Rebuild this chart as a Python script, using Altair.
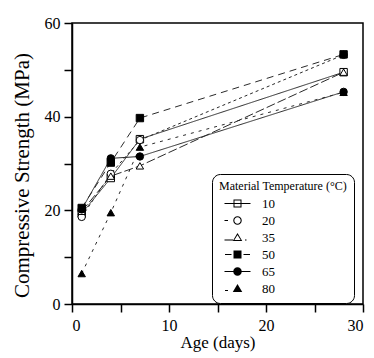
import altair as alt
import pandas as pd

days = [1, 4, 7, 28]
temps = ["10", "20", "35", "50", "65", "80"]
s10 = [19.3, 26.9, 35.2, 49.5]
s20 = [18.6, 27.8, 35.0, 53.2]
s35 = [19.8, 27.3, 29.5, 49.5]
s50 = [20.5, 30.2, 39.7, 53.3]
s65 = [20.2, 31.1, 31.5, 45.3]
s80 = [6.5, 19.5, 33.5, 45.2]

series = [s10, s20, s35, s50, s65, s80]
rows = []
for t, vals in zip(temps, series):
    for d, v in zip(days, vals):
        rows.append({"temp": t, "age": d, "strength": v})
df = pd.DataFrame(rows)

dash_range = [[1, 0], [3, 3], [9, 3], [7, 5], [1, 0], [3, 5]]
shape_range = ["square", "circle", "triangle-up", "square", "circle", "triangle-up"]
fill_range = ["white", "white", "white", "black", "black", "black"]


def rect(x0, x1, yc=0.0, h=0.11):
    return f"M{x0},{yc - h}H{x1}V{yc + h}H{x0}Z"


sq_out = "M-0.8,-0.8H0.8V0.8H-0.8Z"
sq_in = "M-0.6,-0.6V0.6H0.6V-0.6Z"
ci_out = "M0.85,0A0.85,0.85,0,1,1,-0.85,0A0.85,0.85,0,1,1,0.85,0Z"
ci_in = "M0.63,0A0.63,0.63,0,1,0,-0.63,0A0.63,0.63,0,1,0,0.63,0Z"
tr_out = "M0,-0.9L0.95,0.7H-0.95Z"
tr_in = "M0,-0.52L-0.62,0.5H0.62Z"

legend_paths = [
    rect(-2.6, 2.6) + sq_out + sq_in,
    rect(-2.6, -1.9) + ci_out + ci_in,
    rect(-2.6, -0.9, 0.5) + rect(1.5, 1.8, 0.5) + tr_out + tr_in,
    rect(-2.5, -1.2) + rect(1.2, 2.5) + sq_out,
    rect(-2.6, 2.6) + ci_out,
    rect(-2.5, -1.9, 0.4) + tr_out,
]

serif = "Liberation Serif"

x_enc = alt.X("age:Q", scale=alt.Scale(domain=[0, 30], nice=False),
              axis=alt.Axis(values=[0, 5, 10, 15, 20, 25, 30],
                            labelExpr="datum.value % 10 == 0 ? datum.label : ''",
                            title="Age (days)", grid=False, tickSize=8,
                            labelPadding=5, titlePadding=1,
                            labelFont=serif, titleFont=serif,
                            labelFontSize=16, titleFontSize=17))
y_enc = alt.Y("strength:Q", scale=alt.Scale(domain=[0, 60], nice=False),
              axis=alt.Axis(values=[0, 10, 20, 30, 40, 50, 60],
                            labelExpr="datum.value % 20 == 0 ? datum.label : ''",
                            title="Compressive Strength (MPa)", grid=False,
                            tickSize=8, labelPadding=4, titlePadding=12,
                            titleY=152,
                            labelFont=serif, titleFont=serif,
                            labelFontSize=16, titleFontSize=21))

base = alt.Chart(df)

lines = base.mark_line(color="#2a2a2a", strokeWidth=1).encode(
    x=x_enc, y=y_enc,
    strokeDash=alt.StrokeDash("temp:N", scale=alt.Scale(domain=temps, range=dash_range), legend=None),
    detail="temp:N",
)

points = base.mark_point(filled=True, size=55, stroke="black", strokeWidth=1, opacity=1).encode(
    x="age:Q", y="strength:Q",
    shape=alt.Shape("temp:N", scale=alt.Scale(domain=temps, range=shape_range), legend=None),
    fill=alt.Fill("temp:N", scale=alt.Scale(domain=temps, range=fill_range), legend=None),
)

leg = alt.Legend(
    title="Material Temperature (°C)", orient="none", legendX=140, legendY=151,
    strokeColor="black", cornerRadius=8, padding=7, fillColor="white",
    titleFont=serif, titleFontSize=12, titleFontWeight="normal", titlePadding=4,
    titleColor="black", labelColor="black",
    labelFont=serif, labelFontSize=13, labelOffset=18, rowPadding=3,
    symbolSize=100, symbolOffset=12, symbolFillColor="black",
    symbolStrokeWidth=0, symbolOpacity=1,
)

legend_layer = base.transform_filter("false").mark_point(filled=True, color="black", opacity=1).encode(
    x="age:Q", y="strength:Q",
    shape=alt.Shape("temp:N", scale=alt.Scale(domain=temps, range=legend_paths), legend=leg),
)

chart = alt.layer(lines, points, legend_layer).resolve_scale(
    shape="independent"
).properties(
    width=291, height=281, autosize="none", background="white",
    padding={"left": 64, "top": 15, "right": 3, "bottom": 50},
).configure_view(stroke="black", strokeWidth=1.5).configure_axis(
    labelColor="black", titleColor="black", titleFontWeight="normal",
    domainColor="black", domainWidth=1.5, tickColor="black", tickWidth=1.5,
)

chart.save("out.html", embed_options={"renderer": "svg", "actions": False})
